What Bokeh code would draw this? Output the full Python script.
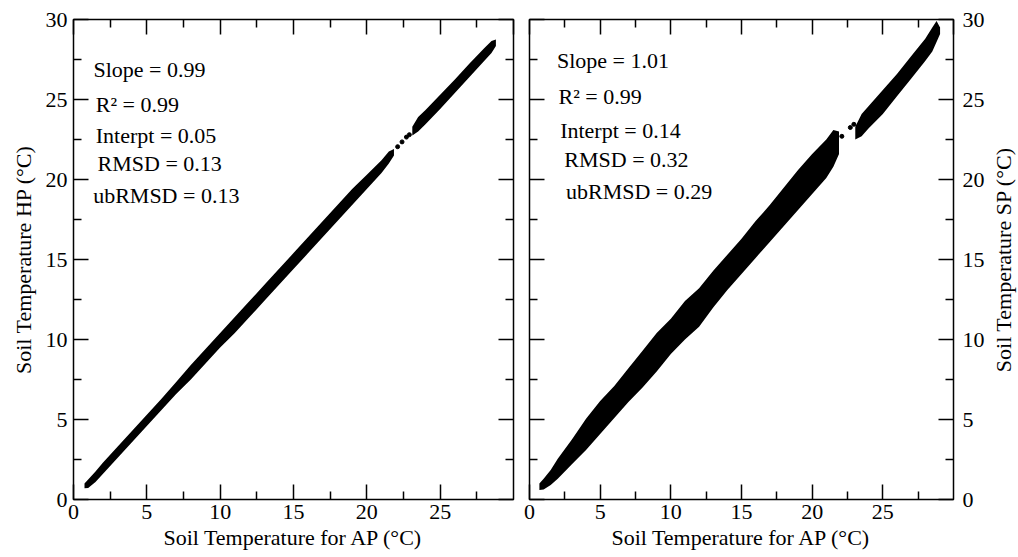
import math
from bokeh.plotting import figure
from bokeh.models import Range1d, LinearAxis, FixedTicker
from bokeh.layouts import row
from bokeh.embed import file_html
from bokeh.resources import INLINE
from bokeh.core.properties import value

# ---------------- data ----------------
# HP vs AP : lower cloud segment (x, lower edge, upper edge)
hp_x1 = [0.75, 1.0, 1.5, 2, 3, 4, 5, 6, 7, 8, 9, 10, 11, 12, 13, 14, 15, 16, 17, 18, 19, 20, 21, 21.5, 21.85]
hp_lo1 = [0.70, 0.72, 1.10, 1.60, 2.60, 3.60, 4.60, 5.60, 6.60, 7.50, 8.50, 9.50, 10.40, 11.40, 12.40, 13.40,
          14.40, 15.40, 16.40, 17.40, 18.40, 19.40, 20.40, 21.00, 21.50]
hp_hi1 = [1.00, 1.25, 1.75, 2.30, 3.30, 4.30, 5.30, 6.30, 7.35, 8.40, 9.40, 10.40, 11.40, 12.40, 13.40, 14.40,
          15.40, 16.40, 17.40, 18.40, 19.40, 20.30, 21.20, 21.75, 21.90]
# HP vs AP : upper cloud segment
hp_x2 = [23.1, 23.5, 24, 25, 26, 27, 28, 28.5, 28.8]
hp_lo2 = [22.75, 23.00, 23.45, 24.40, 25.40, 26.40, 27.40, 27.90, 28.35]
hp_hi2 = [23.30, 23.90, 24.35, 25.30, 26.25, 27.25, 28.20, 28.65, 28.75]
# HP vs AP : isolated points in the gap
hp_dot_x = [22.1, 22.4, 22.7, 22.9]
hp_dot_y = [22.05, 22.35, 22.65, 22.8]
hp_stats = ["Slope = 0.99", "R\u00b2 = 0.99", "Interpt = 0.05", "RMSD = 0.13", "ubRMSD = 0.13"]

# SP vs AP : lower cloud segment
sp_x1 = [0.7, 1.0, 1.5, 2, 3, 4, 5, 6, 7, 8, 9, 10, 11, 12, 13, 14, 15, 16, 17, 18, 19, 20, 21, 21.5, 21.9]
sp_lo1 = [0.60, 0.62, 0.90, 1.30, 2.20, 3.10, 4.10, 5.10, 6.10, 7.00, 8.00, 9.10, 10.00, 10.80, 12.00, 13.10,
          14.10, 15.10, 16.10, 17.10, 18.10, 19.10, 20.10, 20.80, 21.60]
sp_hi1 = [1.00, 1.30, 1.85, 2.55, 3.75, 5.05, 6.15, 7.10, 8.20, 9.30, 10.40, 11.30, 12.40, 13.20, 14.30, 15.30,
          16.30, 17.40, 18.40, 19.50, 20.60, 21.60, 22.50, 23.10, 23.00]
# SP vs AP : upper cloud segment
sp_x2 = [23.05, 23.5, 24, 25, 26, 27, 28, 28.5, 28.8, 29.05]
sp_lo2 = [22.50, 22.70, 23.20, 24.10, 25.20, 26.30, 27.40, 28.00, 28.60, 29.10]
sp_hi2 = [23.30, 24.10, 24.60, 25.60, 26.60, 27.70, 28.80, 29.50, 29.90, 29.50]
# SP vs AP : isolated points in the gap
sp_dot_x = [22.1, 22.7, 22.95]
sp_dot_y = [22.7, 23.25, 23.45]
sp_stats = ["Slope = 1.01", "R\u00b2 = 0.99", "Interpt = 0.14", "RMSD = 0.32", "ubRMSD = 0.29"]

y_ticks = [0, 5, 10, 15, 20, 25, 30]
x_ticks = [0, 5, 10, 15, 20, 25]
minor_ticks = [2.5, 7.5, 12.5, 17.5, 22.5, 27.5]

x_label = "Soil Temperature for AP (\u00b0C)"
hp_label = "Soil Temperature HP (\u00b0C)"
sp_label = "Soil Temperature SP (\u00b0C)"

# ---------------- layout / style ----------------
FONT = "Liberation Serif"
hp_text_x = [1.36, 1.52, 1.52, 1.64, 1.34]
hp_text_y = [26.87, 24.66, 22.73, 21.02, 18.97]
sp_text_x = [1.94, 2.05, 2.17, 2.46, 2.58]
sp_text_y = [27.44, 25.20, 23.05, 21.27, 19.25]


def style_axis(ax, ticks, labels=True):
    ax.ticker = FixedTicker(ticks=ticks, minor_ticks=minor_ticks)
    ax.major_tick_in = 15
    ax.major_tick_out = 0
    ax.minor_tick_in = 8
    ax.minor_tick_out = 0
    ax.major_tick_line_width = 1.5
    ax.minor_tick_line_width = 1.5
    ax.major_tick_line_color = "black"
    ax.minor_tick_line_color = "black"
    ax.axis_line_color = None
    ax.major_label_text_font = FONT
    if labels:
        ax.major_label_text_font_size = "22px"
        ax.major_label_text_color = "black"
    else:
        ax.major_label_text_font_size = "1px"
        ax.major_label_text_color = None
        ax.major_label_standoff = 0
    ax.axis_label_text_font = FONT
    ax.axis_label_text_font_size = "22px"
    ax.axis_label_text_font_style = "normal"
    ax.axis_label_text_color = "black"


def make_panel(side, fw, mbl, mbr, xs1, lo1, hi1, xs2, lo2, hi2, dx, dy, stats, tx, ty, ylab):
    p = figure(x_range=Range1d(0, 30), y_range=Range1d(0, 30),
               frame_width=fw, frame_height=480,
               y_axis_location=side,
               output_backend="svg", toolbar_location=None, tools="",
               min_border_left=mbl, min_border_right=mbr,
               min_border_top=19, min_border_bottom=50)
    p.grid.visible = False
    p.outline_line_color = "black"
    p.outline_line_width = 1.5
    p.background_fill_color = "white"
    p.border_fill_color = "white"

    # main axes
    style_axis(p.xaxis[0], x_ticks)
    p.xaxis[0].axis_label = x_label
    p.xaxis[0].major_label_standoff = 5
    p.xaxis[0].axis_label_standoff = 3
    style_axis(p.yaxis[0], y_ticks)
    if side == "left":
        p.yaxis[0].axis_label = ylab
        p.yaxis[0].major_label_standoff = 6
        p.yaxis[0].axis_label_standoff = 7
    else:
        p.yaxis[0].major_label_standoff = 9

    # mirrored tick-only axes
    top = LinearAxis()
    style_axis(top, y_ticks, labels=False)
    p.add_layout(top, "above")
    other = LinearAxis()
    style_axis(other, y_ticks, labels=False)
    p.add_layout(other, "right" if side == "left" else "left")

    p.varea(x=xs1, y1=lo1, y2=hi1, color="black")
    p.varea(x=xs2, y1=lo2, y2=hi2, color="black")
    p.scatter(x=dx, y=dy, size=4, color="black")

    p.text(x=tx, y=ty, text=stats, text_font=value(FONT), text_font_size="22px",
           text_baseline="alphabetic", text_align="left", text_color="black")
    return p


p1 = make_panel("left", 440, 73, 8, hp_x1, hp_lo1, hp_hi1, hp_x2, hp_lo2, hp_hi2,
                hp_dot_x, hp_dot_y, hp_stats, hp_text_x, hp_text_y, hp_label)
p2 = make_panel("right", 424, 8, 35, sp_x1, sp_lo1, sp_hi1, sp_x2, sp_lo2, sp_hi2,
                sp_dot_x, sp_dot_y, sp_stats, sp_text_x, sp_text_y, sp_label)

# narrow strip holding the right-hand axis title (reads bottom-to-top)
p3 = figure(x_range=Range1d(0, 1), y_range=Range1d(0, 1),
            frame_width=30, frame_height=480,
            x_axis_location=None, y_axis_location=None,
            output_backend="svg", toolbar_location=None, tools="",
            min_border_left=0, min_border_right=0,
            min_border_top=19, min_border_bottom=50)
p3.grid.visible = False
p3.outline_line_color = None
p3.background_fill_color = "white"
p3.border_fill_color = "white"
p3.text(x=[0.5], y=[0.5], text=[sp_label], angle=math.pi / 2,
        text_font=value(FONT), text_font_size="22px",
        text_align="center", text_baseline="middle", text_color="black")

layout = row(p1, p2, p3)
open("out.html", "w").write(file_html(layout, INLINE))
